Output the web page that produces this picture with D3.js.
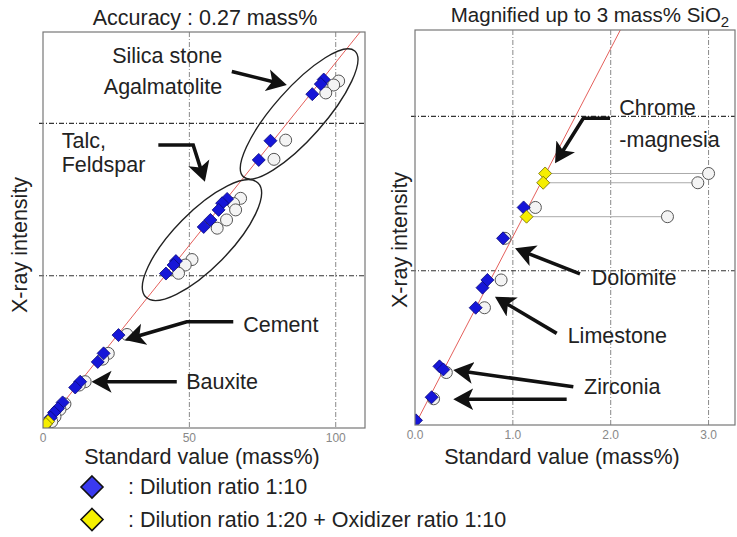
<!DOCTYPE html>
<html>
<head>
<meta charset="utf-8">
<script src="https://cdn.jsdelivr.net/npm/d3@7"></script>
<style>
  body { margin: 0; background: #fff; }
  svg { display: block; font-family: "Liberation Sans", Arial, sans-serif; }
</style>
</head>
<body>
<svg width="737" height="537"></svg>
<script>
// ---- data: standard value (mass%) vs X-ray intensity ----
// overview panel
const leftBlueX = [95.9, 94.9, 92.0, 77.7, 73.7, 62.9, 61.2, 60.0, 57.2, 54.9, 45.4, 44.6, 42.0, 25.8, 20.7, 18.7, 12.7, 11.0, 6.7, 5.1, 3.8, 2.6, 1.4, 0.5];
const leftBlueY = [11.44, 11.29, 10.96, 9.43, 8.80, 7.52, 7.38, 7.16, 6.83, 6.60, 5.48, 5.35, 5.07, 3.05, 2.45, 2.17, 1.52, 1.33, 0.84, 0.64, 0.51, 0.34, 0.20, 0.07];
const leftCircleX = [101.0, 99.3, 96.6, 82.9, 78.9, 67.5, 65.1, 65.8, 62.7, 59.5, 50.9, 48.6, 46.3, 28.7, 22.3, 20.4, 14.4, 12.4, 7.5, 5.8, 4.1, 3.0];
const leftCircleY = [11.39, 11.26, 11.00, 9.45, 8.82, 7.54, 7.37, 7.16, 6.83, 6.56, 5.53, 5.35, 5.08, 3.07, 2.45, 2.26, 1.52, 1.41, 0.79, 0.61, 0.37, 0.21];
const leftYellowX = [1.7, 1.0];
const leftYellowY = [0.21, 0.13];

// magnified panel (up to 3 mass% SiO2)
const rightBlueX = [0.01, 0.17, 0.25, 0.29, 0.62, 0.69, 0.74, 0.90, 1.11];
const rightBlueY = [0.003, 0.018, 0.038, 0.036, 0.076, 0.089, 0.094, 0.121, 0.141];
const rightCircleX = [0.19, 0.32, 0.71, 0.88, 0.92, 1.23, 3.00, 2.89, 2.58];
const rightCircleY = [0.017, 0.034, 0.076, 0.094, 0.121, 0.141, 0.163, 0.157, 0.135];
const rightYellowX = [1.33, 1.31, 1.14];
const rightYellowY = [0.163, 0.157, 0.135];

const leftTicks = [0, 50, 100];
const rightTicks = [0, 1, 2, 3];

// annotations (data units)
const leftEllipses = [
  { x: 87.5, y: 10.31, rx: 84, ry: 25, angle: -48.5 },
  { x: 54.3, y: 6.17, rx: 80, ry: 28, angle: -45.5 }
];
const leftArrows = [
  [[64.5, 11.70], [83.3, 11.26]],
  [[39.4, 9.29], [51.3, 9.29], [55.3, 8.08]],
  [[65.0, 3.49], [49.1, 3.49], [28.0, 2.89]],
  [[45.7, 1.52], [16.6, 1.52]]
];
const leftLabels = [
  { t: "Silica stone", x: 61.2, y: 11.98, a: "end" },
  { t: "Agalmatolite", x: 61.2, y: 10.97, a: "end" },
  { t: "Talc,", x: 6.4, y: 9.19, a: "start" },
  { t: "Feldspar", x: 6.4, y: 8.41, a: "start" },
  { t: "Cement", x: 68.4, y: 3.16, a: "start" },
  { t: "Bauxite", x: 48.9, y: 1.27, a: "start" }
];
const rightArrows = [
  [[1.993, 0.1988], [1.720, 0.1988], [1.431, 0.1696]],
  [[1.686, 0.0979], [1.022, 0.1145]],
  [[1.448, 0.0594], [0.817, 0.0831]],
  [[1.618, 0.0248], [0.391, 0.0356]],
  [[1.550, 0.0167], [0.391, 0.0167]]
];
const rightLabels = [
  { t: "Chrome", x: 2.088, y: 0.2009, a: "start" },
  { t: "-magnesia", x: 2.088, y: 0.1804, a: "start" },
  { t: "Dolomite", x: 1.806, y: 0.0907, a: "start" },
  { t: "Limestone", x: 1.560, y: 0.0533, a: "start" },
  { t: "Zirconia", x: 1.727, y: 0.0199, a: "start" }
];

const FS = 21.5;
const svg = d3.select("svg");
const zip = (xs, ys) => xs.map((x, i) => [x, ys[i]]);
const diamond = r => `M0,${-r}L${r},0L0,${r}L${-r},0Z`;

// arrow head
svg.append("defs").append("marker")
  .attr("id", "head")
  .attr("viewBox", "0 -12 20 24")
  .attr("refX", 9).attr("refY", 0)
  .attr("markerWidth", 20).attr("markerHeight", 24)
  .attr("markerUnits", "userSpaceOnUse")
  .attr("orient", "auto")
  .append("path")
  .attr("d", "M0,-11L20,0L0,11L5,0Z")
  .attr("fill", "#111");

function drawPanel(p) {
  const x = d3.scaleLinear().domain(p.xDomain).range([p.x0, p.x1]);
  const y = d3.scaleLinear().domain(p.yDomain).range([p.y1, p.y0]);
  const g = svg.append("g");

  g.append("clipPath").attr("id", p.id)
    .append("rect").attr("x", p.x0).attr("y", p.y0)
    .attr("width", p.x1 - p.x0).attr("height", p.y1 - p.y0);

  // grid
  g.selectAll(".vg").data(p.ticks.filter(d => d > 0)).enter().append("line")
    .attr("x1", d => x(d)).attr("x2", d => x(d))
    .attr("y1", p.y0).attr("y2", p.y1)
    .attr("stroke", "#888").attr("stroke-width", 1)
    .attr("stroke-dasharray", "5,2,1,2");
  g.selectAll(".hg").data(p.yGrid).enter().append("line")
    .attr("x1", p.x0 - 4).attr("x2", p.x1)
    .attr("y1", d => y(d)).attr("y2", d => y(d))
    .attr("stroke", "#333").attr("stroke-width", 1.1)
    .attr("stroke-dasharray", "5,2,1,2");

  const inner = g.append("g").attr("clip-path", `url(#${p.id})`);

  // calibration line
  inner.append("line")
    .attr("x1", x(0)).attr("y1", y(0))
    .attr("x2", x(p.xDomain[1])).attr("y2", y(p.k * p.xDomain[1]))
    .attr("stroke", "#e4605c").attr("stroke-width", 1);

  // connectors for yellow points
  if (p.links) {
    inner.selectAll(".lk").data(p.links).enter().append("line")
      .attr("x1", d => x(d[0])).attr("x2", d => x(d[1]))
      .attr("y1", d => y(d[2])).attr("y2", d => y(d[2]))
      .attr("stroke", "#aaa").attr("stroke-width", 1);
  }

  inner.selectAll(".ci").data(p.circles).enter().append("circle")
    .attr("cx", d => x(d[0])).attr("cy", d => y(d[1])).attr("r", 6)
    .attr("fill", "#f4f4f4").attr("stroke", "#555").attr("stroke-width", 1);

  inner.selectAll(".bd").data(p.blue).enter().append("path")
    .attr("d", diamond(6.5))
    .attr("transform", d => `translate(${x(d[0])},${y(d[1])})`)
    .attr("fill", "#1616d8").attr("stroke", "#0a0a7a").attr("stroke-width", 0.8);

  inner.selectAll(".yd").data(p.yellow).enter().append("path")
    .attr("d", diamond(6.5))
    .attr("transform", d => `translate(${x(d[0])},${y(d[1])})`)
    .attr("fill", "#f5ee00").attr("stroke", "#6b6400").attr("stroke-width", 0.8);

  // frame
  g.append("rect").attr("x", p.x0).attr("y", p.y0)
    .attr("width", p.x1 - p.x0).attr("height", p.y1 - p.y0)
    .attr("fill", "none").attr("stroke", "#777").attr("stroke-width", 1.2);

  // tick labels
  g.selectAll(".tl").data(p.ticks).enter().append("text")
    .attr("x", d => x(d)).attr("y", p.y1 + 14)
    .attr("text-anchor", "middle").attr("font-size", 12).attr("fill", "#888")
    .text(p.fmt);

  // ellipses
  g.selectAll(".el").data(p.ellipses || []).enter().append("ellipse")
    .attr("rx", d => d.rx).attr("ry", d => d.ry)
    .attr("transform", d => `translate(${x(d.x)},${y(d.y)}) rotate(${d.angle})`)
    .attr("fill", "none").attr("stroke", "#222").attr("stroke-width", 1.4);

  // arrows
  const line = d3.line();
  g.selectAll(".ar").data(p.arrows).enter().append("path")
    .attr("d", d => {
      const pts = d.map(q => [x(q[0]), y(q[1])]);
      const n = pts.length, a = pts[n - 2], b = pts[n - 1];
      const len = Math.hypot(b[0] - a[0], b[1] - a[1]);
      pts[n - 1] = [b[0] - (b[0] - a[0]) * 11 / len, b[1] - (b[1] - a[1]) * 11 / len];
      return line(pts);
    })
    .attr("fill", "none").attr("stroke", "#111").attr("stroke-width", 3.6)
    .attr("stroke-linejoin", "miter")
    .attr("marker-end", "url(#head)");

  g.selectAll(".lb").data(p.labels).enter().append("text")
    .attr("x", d => x(d.x)).attr("y", d => y(d.y))
    .attr("text-anchor", d => d.a)
    .attr("font-size", FS).attr("fill", "#222")
    .text(d => d.t);

  // axis titles
  g.append("text")
    .attr("x", (p.x0 + p.x1) / 2 + p.xtOff).attr("y", 464)
    .attr("text-anchor", "middle").attr("font-size", FS).attr("fill", "#222")
    .text("Standard value (mass%)");
  g.append("text")
    .attr("transform", `translate(${p.ytX},${p.ytY}) rotate(-90)`)
    .attr("text-anchor", "middle").attr("font-size", FS).attr("fill", "#222")
    .text("X-ray intensity");
}

drawPanel({
  id: "clipL", x0: 43, x1: 365, y0: 32, y1: 428,
  xDomain: [0, 110], yDomain: [0, 13], k: 0.12,
  ticks: leftTicks, yGrid: [5, 10], fmt: d3.format("d"),
  blue: zip(leftBlueX, leftBlueY), circles: zip(leftCircleX, leftCircleY),
  yellow: zip(leftYellowX, leftYellowY),
  ellipses: leftEllipses, arrows: leftArrows, labels: leftLabels,
  xtOff: -2, ytX: 27, ytY: 245
});

drawPanel({
  id: "clipR", x0: 415, x1: 735, y0: 30, y1: 425,
  xDomain: [0, 3.27], yDomain: [0, 0.256], k: 0.122,
  ticks: rightTicks, yGrid: [0.1, 0.2], fmt: d3.format(".1f"),
  blue: zip(rightBlueX, rightBlueY), circles: zip(rightCircleX, rightCircleY),
  yellow: zip(rightYellowX, rightYellowY),
  links: rightYellowX.map((v, i) => [v, rightCircleX[6 + i], rightYellowY[i]]),
  arrows: rightArrows, labels: rightLabels,
  xtOff: -13, ytX: 407, ytY: 240
});

// titles
svg.append("text").attr("x", 205).attr("y", 25)
  .attr("text-anchor", "middle").attr("font-size", FS).attr("fill", "#222")
  .text("Accuracy : 0.27 mass%");
const t2 = svg.append("text").attr("x", 590).attr("y", 22)
  .attr("text-anchor", "middle").attr("font-size", 20.5).attr("fill", "#222");
t2.append("tspan").text("Magnified up to 3 mass% SiO");
t2.append("tspan").attr("font-size", 15).attr("dy", 5).text("2");

// legend
const legendNames = [": Dilution ratio 1:10", ": Dilution ratio 1:20 + Oxidizer ratio 1:10"];
const legendFill = ["#3a3af0", "#f5f000"];
const lg = svg.append("g").selectAll("g").data(legendNames).enter().append("g")
  .attr("transform", (d, i) => `translate(92,${487 + i * 32.5})`);
lg.append("path").attr("d", diamond(11))
  .attr("fill", (d, i) => legendFill[i]).attr("stroke", "#111").attr("stroke-width", 1.6);
lg.append("text").attr("x", 36).attr("y", 7)
  .attr("font-size", FS).attr("fill", "#222").text(d => d);
</script>
</body>
</html>
